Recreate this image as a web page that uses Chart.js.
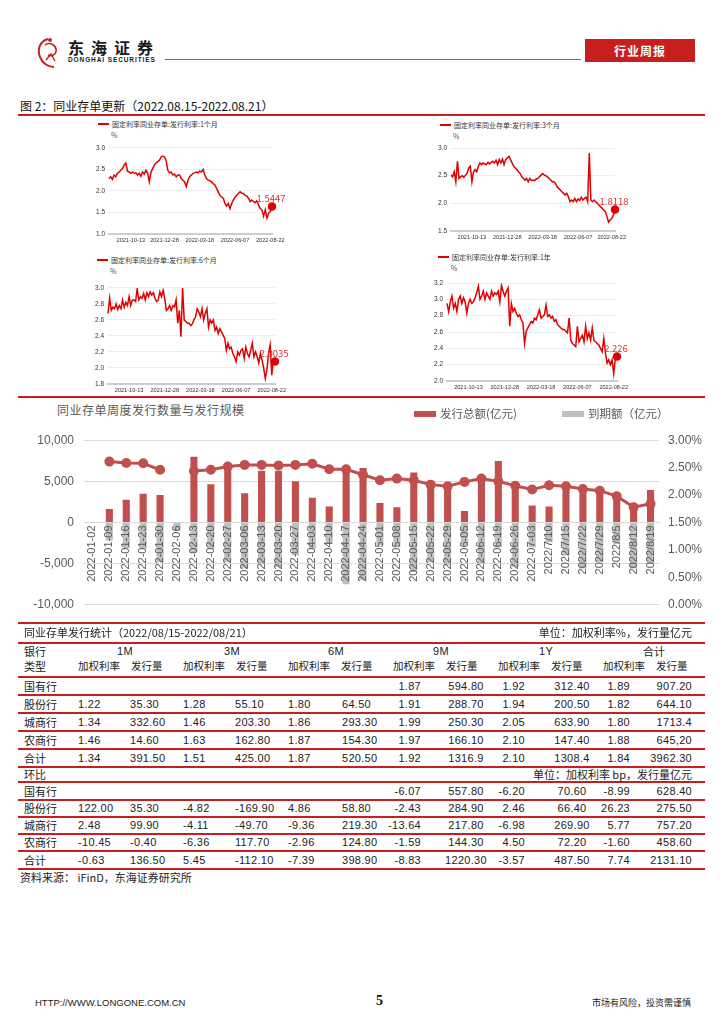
<!DOCTYPE html>
<html lang="zh-CN">
<head>
<meta charset="UTF-8">
<title>同业存单更新</title>
<script src="https://cdn.jsdelivr.net/npm/chart.js@4.4.0/dist/chart.umd.min.js"></script>
<style>
    body { margin: 0; background: #fff; font-family: "Noto Sans CJK SC", sans-serif; }
    #page { position: relative; width: 724px; height: 1024px; overflow: hidden; background: #fff; }
    .t { position: absolute; white-space: nowrap; line-height: 1; }
    .rl { position: absolute; left: 18px; width: 687px; background: #C81E1E; }
    canvas { position: absolute; }
    .num { font-family: "Liberation Sans", sans-serif; letter-spacing: 0.3px; }
</style>
</head>
<body>
<div id="page">
    <!-- header -->
    <svg style="position:absolute;left:34px;top:36px" width="30" height="34" viewBox="0 0 30 34">
        <path d="M14 3 C6 5 3 13 6 21 C8 27 14 31 20 31" fill="none" stroke="#C81E1E" stroke-width="2"/>
        <path d="M11 9 C15 6 21 8 22 13 C23 18 18 21 14 19" fill="none" stroke="#C81E1E" stroke-width="1.6"/>
        <path d="M12 24 L17 18 L21 25" fill="none" stroke="#C81E1E" stroke-width="1.4"/>
        <circle cx="16" cy="4" r="2" fill="#C81E1E"/>
    </svg>
    <div class="t" style="left:68px;top:39px;font-size:16px;font-weight:bold;letter-spacing:7px;color:#1a1a1a">东海证券</div>
    <div class="t" style="left:68px;top:57px;font-size:6.5px;font-weight:bold;letter-spacing:0.9px;color:#1a1a1a;font-family:'Liberation Sans',sans-serif">DONGHAI SECURITIES</div>
    <div style="position:absolute;left:165px;top:59px;width:416px;height:1px;background:#C0504D"></div>
    <div style="position:absolute;left:585px;top:39px;width:110px;height:23px;background:#C81E1E"></div>
    <div class="t" style="left:640px;top:51px;transform:translate(-50%,-50%);font-size:12px;font-weight:bold;color:#fff;letter-spacing:1px">行业周报</div>

    <div class="t" style="left:20px;top:100px;font-size:12px;color:#111">图 2：同业存单更新（2022.08.15-2022.08.21）</div>
    <div class="rl" style="top:114px;height:2px"></div>

    <!-- small charts -->
    <canvas id="c1m" width="200" height="110" style="left:88px;top:140px;width:200px;height:110px"></canvas>
    <canvas id="c3m" width="200" height="105" style="left:430px;top:140px;width:200px;height:105px"></canvas>
    <canvas id="c6m" width="205" height="117" style="left:87px;top:280px;width:205px;height:117px"></canvas>
    <canvas id="c1y" width="210" height="120" style="left:426px;top:275px;width:210px;height:120px"></canvas>
    <div class="rl" style="top:396px;height:2px"></div>

    <!-- main chart -->
    <div class="t" style="left:57px;top:404px;font-size:12px;color:#595959;letter-spacing:0.5px">同业存单周度发行数量与发行规模</div>
    <div style="position:absolute;left:414px;top:411px;width:22px;height:6px;background:#C0504D"></div>
    <div class="t" style="left:440px;top:408px;font-size:11.5px;color:#595959">发行总额(亿元)</div>
    <div style="position:absolute;left:562px;top:411px;width:22px;height:6px;background:#BFBFBF"></div>
    <div class="t" style="left:588px;top:408px;font-size:11.5px;color:#595959">到期额（亿元）</div>
    <canvas id="main" width="724" height="199" style="left:0;top:423px;width:724px;height:199px"></canvas>

    <!-- footer -->
    <div class="t" style="left:35px;top:998px;font-size:9.5px;color:#222;font-family:'Liberation Sans',sans-serif">HTTP://WWW.LONGONE.COM.CN</div>
    <div class="t" style="left:376px;top:994px;font-size:14px;font-weight:bold;color:#111;font-family:'Liberation Serif',serif">5</div>
    <div class="t" style="left:592px;top:998px;font-size:9px;color:#222">市场有风险，投资需谨慎</div>
</div>

<script>
    // 主图：同业存单周度发行
    var weeks = ['2022-01-02', '2022-01-09', '2022-01-16', '2022-01-23', '2022-01-30', '2022-02-06',
        '2022-02-13', '2022-02-20', '2022-02-27', '2022-03-06', '2022-03-13', '2022-03-20', '2022-03-27',
        '2022-04-03', '2022-04-10', '2022-04-17', '2022-04-24', '2022-05-01', '2022-05-08', '2022-05-15',
        '2022-05-22', '2022-05-29', '2022-06-05', '2022-06-12', '2022-06-19', '2022-06-26', '2022-07-03',
        '2022/7/10', '2022/7/15', '2022/7/22', '2022/7/29', '2022/8/5', '2022/8/12', '2022/8/19'];
    var issueAmt = [null, 1650, 2750, 3500, 3350, null, 7980, 4640, 7020, 3550, 6300, 6300, 5000,
        3020, 1940, 6610, 6610, 2380, 1850, 6090, 4920, 4480, 1410, 5360, 7460, 4560, 2060,
        1940, 4560, 4150, 4270, 3630, 2060, 3950];
    var maturityAmt = [null, -2200, -3100, -3200, -4800, -1000, -3600, -3200, -4800, -5600, -5100, -5400, -4000,
        -3200, -2600, -7500, -7000, -2800, -3000, -6000, -4800, -5200, -2800, -5000, -3000, -5400, -3000,
        -2400, -4000, -5600, -4800, -2600, -5600, -5000];
    var issueRate = [null, 2.61, 2.585, 2.58, 2.46, null, 2.44, 2.46, 2.52, 2.55, 2.55, 2.54, 2.55,
        2.57, 2.47, 2.47, 2.37, 2.27, 2.30, 2.27, 2.19, 2.16, 2.24, 2.30, 2.25, 2.17, 2.10,
        2.18, 2.16, 2.11, 2.08, 1.98, 1.78, 1.84];

    // 小图：固定利率同业存单发行利率（日度）
    var tickDates = ['2021-10-13', '2021-12-28', '2022-03-18', '2022-06-07', '2022-08-22'];
    var rate1M = [2.29, 2.33, 2.27, 2.37, 2.33, 2.41, 2.44, 2.48, 2.52, 2.60, 2.65, 2.46, 2.44, 2.41, 2.44, 2.41,
        2.42, 2.37, 2.41, 2.34, 2.44, 2.39, 2.48, 2.41, 2.21, 2.44, 2.52, 2.60, 2.65, 2.68, 2.71, 2.79, 2.81,
        2.79, 2.71, 2.48, 2.42, 2.44, 2.37, 2.39, 2.33, 2.37, 2.37, 2.29, 2.25, 2.21, 2.10, 2.25, 2.33, 2.37,
        2.41, 2.42, 2.44, 2.42, 2.46, 2.44, 2.50, 2.37, 2.29, 2.25, 2.24, 2.21, 2.17, 2.14, 2.06, 1.98, 1.90,
        1.86, 1.83, 1.71, 1.65, 1.71, 1.59, 1.71, 1.79, 1.85, 1.90, 1.94, 1.98, 1.95, 1.94, 1.90, 1.88, 1.83,
        1.75, 1.79, 1.75, 1.73, 1.77, 1.67, 1.59, 1.56, 1.41, 1.56, 1.37, 1.49, 1.52, 1.64];
    var rate3M = [2.51, 2.48, 2.57, 2.39, 2.76, 2.45, 2.48, 2.50, 2.47, 2.51, 2.54, 2.64, 2.67, 2.39, 2.57, 2.61,
        2.57, 2.67, 2.73, 2.70, 2.73, 2.71, 2.70, 2.74, 2.71, 2.74, 2.76, 2.73, 2.78, 2.70, 2.79, 2.73, 2.80,
        2.70, 2.79, 2.82, 2.85, 2.79, 2.73, 2.67, 2.64, 2.61, 2.57, 2.54, 2.48, 2.45, 2.42, 2.45, 2.39, 2.45,
        2.41, 2.42, 2.41, 2.44, 2.45, 2.48, 2.51, 2.54, 2.51, 2.50, 2.48, 2.45, 2.42, 2.39, 2.39, 2.36, 2.30,
        2.27, 2.24, 2.21, 2.18, 2.15, 2.18, 2.12, 2.03, 2.06, 2.03, 2.09, 2.03, 2.08, 2.05, 2.11, 2.06, 2.09,
        2.11, 2.03, 2.91, 2.06, 2.03, 2.06, 2.03, 2.00, 1.97, 1.94, 1.91, 1.88, 1.85, 1.76, 1.66, 1.70, 1.73,
        1.79, 1.89];
    var rate6M = [2.68, 2.87, 2.72, 2.76, 2.74, 2.80, 2.73, 2.78, 2.74, 2.85, 2.76, 2.82, 2.78, 2.89, 2.78, 2.85,
        2.85, 2.83, 2.99, 2.85, 2.89, 2.87, 2.93, 2.85, 2.94, 2.89, 2.95, 2.91, 2.94, 2.87, 2.83, 2.85, 2.95,
        2.89, 2.97, 2.87, 2.72, 2.74, 2.78, 2.72, 2.78, 2.76, 2.85, 2.56, 2.72, 2.39, 3.00, 2.60, 2.58, 2.56,
        2.56, 2.53, 2.55, 2.60, 2.64, 2.74, 2.70, 2.64, 2.74, 2.60, 2.68, 2.74, 2.51, 2.60, 2.56, 2.60, 2.47,
        2.51, 2.43, 2.49, 2.45, 2.41, 2.37, 2.22, 2.31, 2.24, 2.26, 2.18, 2.14, 2.08, 2.20, 2.16, 2.22, 2.24,
        2.12, 2.26, 2.18, 2.14, 2.22, 2.31, 2.14, 2.20, 2.14, 2.06, 2.18, 2.10, 2.00, 1.87, 1.97, 2.18, 2.29,
        1.91, 2.10, 2.08];
    var rate1Y = [2.95, 2.85, 2.97, 3.04, 2.89, 2.95, 2.85, 3.00, 3.04, 2.95, 3.02, 2.97, 2.83, 2.95, 3.00, 2.95,
        2.97, 3.02, 3.08, 3.16, 3.00, 3.04, 3.10, 3.00, 3.08, 3.04, 3.00, 3.10, 3.04, 3.08, 3.06, 3.10, 2.97,
        3.17, 3.10, 3.04, 3.10, 3.14, 2.67, 2.95, 2.85, 2.89, 2.83, 2.79, 2.81, 2.75, 2.71, 2.46, 2.61, 2.65,
        2.69, 2.73, 2.71, 2.77, 2.75, 2.81, 2.87, 2.77, 2.79, 2.81, 2.93, 2.79, 2.81, 2.77, 2.79, 2.73, 2.75,
        2.69, 2.67, 2.65, 2.63, 2.63, 2.61, 2.59, 2.77, 2.50, 2.46, 2.44, 2.42, 2.67, 2.48, 2.52, 2.56, 2.48,
        2.67, 2.52, 2.59, 2.50, 2.65, 2.50, 2.48, 2.46, 2.44, 2.40, 2.36, 2.52, 2.34, 2.22, 2.26, 2.20, 2.26,
        2.09, 2.28, 2.30];

    var page = document.getElementById('page');

    function txt(s, x, y, size, align, cls, color) {
        var d = document.createElement('div');
        d.className = 't' + (cls ? ' ' + cls : '');
        d.textContent = s;
        d.style.fontSize = size + 'px';
        d.style.left = x + 'px';
        d.style.top = y + 'px';
        d.style.color = color || '#222';
        var ax = align == 'right' ? '-100%' : (align == 'center' ? '-50%' : '0');
        d.style.transform = 'translate(' + ax + ',-50%)';
        page.appendChild(d);
    }

    function redLine(y, h) {
        var d = document.createElement('div');
        d.className = 'rl';
        d.style.top = y + 'px';
        d.style.height = (h || 1.5) + 'px';
        page.appendChild(d);
    }

    // 小图的图例和单位
    var smallTitles = [
        ['固定利率同业存单:发行利率:1个月', 98, 124],
        ['固定利率同业存单:发行利率:3个月', 440, 125],
        ['固定利率同业存单:发行利率:6个月', 97, 260],
        ['固定利率同业存单:发行利率:1年', 438, 257]
    ];
    smallTitles.forEach(function (s) {
        var l = document.createElement('div');
        l.style.cssText = 'position:absolute;left:' + s[1] + 'px;top:' + (s[2] - 1) + 'px;width:11px;height:2px;background:#E00000';
        page.appendChild(l);
        txt(s[0], s[1] + 14, s[2], 7, 'left', '', '#333');
        txt('%', s[1] + 13, s[2] + 11, 7, 'left', '', '#555');
    });

    var lastLabel = {
        id: 'lastLabel',
        afterDatasetsDraw: function (chart, args, opts) {
            var meta = chart.getDatasetMeta(0);
            var p = meta.data[meta.data.length - 1];
            var ctx = chart.ctx;
            ctx.save();
            ctx.fillStyle = '#E03030';
            ctx.font = '9.5px "Noto Sans CJK SC"';
            ctx.textAlign = 'center';
            ctx.textBaseline = 'bottom';
            ctx.fillText(opts.text, p.x - 1, p.y - 3);
            ctx.restore();
        }
    };

    function smallChart(id, values, yMin, yMax, yStep, note, box) {
        var n = values.length;
        var labels = values.map(function () { return ''; });
        var tickAt = {};
        tickDates.forEach(function (d, k) {
            tickAt[Math.round((n - 1) * (0.985 - (4 - k) * 0.214))] = d;
        });
        new Chart(document.getElementById(id), {
            type: 'line',
            data: {
                labels: labels,
                datasets: [{
                    data: values,
                    borderColor: '#E00000',
                    backgroundColor: '#E00000',
                    borderWidth: 1.5,
                    tension: 0,
                    pointRadius: function (c) { return c.dataIndex == n - 1 ? 3.5 : 0; }
                }]
            },
            plugins: [lastLabel],
            options: {
                responsive: false,
                animation: false,
                layout: { padding: { top: box.top, right: box.right, left: 0, bottom: 0 } },
                plugins: { legend: { display: false }, tooltip: { enabled: false }, lastLabel: { text: note } },
                scales: {
                    x: {
                        grid: { display: false, drawTicks: false },
                        border: { display: true, color: '#C9CDD6', width: 2 },
                        ticks: {
                            autoSkip: false, maxRotation: 0, minRotation: 0, padding: 3,
                            color: '#333', font: { size: 5.6 },
                            callback: function (v, i) { return tickAt[i] || ''; }
                        },
                        afterFit: function (s) { s.height = box.xh; }
                    },
                    y: {
                        min: yMin, max: yMax,
                        grid: { color: '#EDEDED', drawTicks: false },
                        border: { display: false },
                        ticks: {
                            stepSize: yStep, padding: 4, color: '#333', font: { size: 6.5 },
                            callback: function (v) { return v.toFixed(1); }
                        },
                        afterFit: function (s) { s.width = box.yw; }
                    }
                }
            }
        });
    }

    smallChart('c1m', rate1M, 1.0, 3.0, 0.5, '1.5447', { top: 7.7, right: 16, xh: 16, yw: 21 });
    smallChart('c3m', rate3M, 1.5, 3.0, 0.5, '1.8118', { top: 8, right: 15, xh: 14, yw: 21 });
    smallChart('c6m', rate6M, 1.8, 3.0, 0.2, '2.0035', { top: 7.7, right: 17, xh: 13, yw: 21 });
    smallChart('c1y', rate1Y, 2.0, 3.2, 0.2, '2.226', { top: 8, right: 19, xh: 14, yw: 21 });

    // 主图
    new Chart(document.getElementById('main'), {
        data: {
            labels: weeks,
            datasets: [{
                type: 'line',
                label: '加权发行利率',
                data: issueRate,
                yAxisID: 'y1',
                borderColor: '#C0504D',
                backgroundColor: '#C0504D',
                borderWidth: 3,
                pointRadius: 3.5,
                tension: 0,
                spanGaps: false,
                order: 0
            }, {
                type: 'bar',
                label: '发行总额(亿元)',
                data: issueAmt,
                yAxisID: 'y',
                stack: 's',
                backgroundColor: '#C0504D',
                barPercentage: 0.42,
                categoryPercentage: 1,
                order: 1
            }, {
                type: 'bar',
                label: '到期额（亿元）',
                data: maturityAmt,
                yAxisID: 'y',
                stack: 's',
                backgroundColor: '#BFBFBF',
                barPercentage: 0.42,
                categoryPercentage: 1,
                order: 2
            }]
        },
        options: {
            responsive: false,
            animation: false,
            layout: { padding: { top: 6, bottom: 10, left: 0, right: 0 } },
            plugins: { legend: { display: false }, tooltip: { enabled: false } },
            scales: {
                x: {
                    stacked: true,
                    position: { y: 0 },
                    grid: { display: false, drawTicks: false },
                    border: { display: true, color: '#D9D9D9' },
                    ticks: {
                        autoSkip: false, minRotation: 90, maxRotation: 90, padding: 3, z: 1,
                        color: '#595959', font: { size: 11 }
                    }
                },
                y: {
                    stacked: true,
                    min: -10000, max: 10000,
                    grid: { color: '#D9D9D9', drawTicks: false },
                    border: { display: false },
                    ticks: {
                        stepSize: 5000, padding: 10, color: '#595959', font: { size: 12 },
                        callback: function (v) { return v.toLocaleString('en-US'); }
                    },
                    afterFit: function (s) { s.width = 84; }
                },
                y1: {
                    position: 'right',
                    min: 0, max: 3,
                    grid: { display: false, drawTicks: false },
                    border: { display: false },
                    ticks: {
                        stepSize: 0.5, padding: 9, color: '#595959', font: { size: 12 },
                        callback: function (v) { return v.toFixed(2) + '%'; }
                    },
                    afterFit: function (s) { s.width = 65; }
                }
            }
        }
    });

    // 表格：同业存单发行统计
    var cols = [[24, 'left'], [78, 'left'], [130, 'left'], [183, 'left'], [235, 'left'], [288, 'left'], [342, 'left'],
        [421, 'right'], [466, 'center'], [525, 'right'], [572, 'center'], [630, 'right'], [692, 'right']];
    var rowsWeek = [
        ['国有行', '', '', '', '', '', '', '1.87', '594.80', '1.92', '312.40', '1.89', '907.20'],
        ['股份行', '1.22', '35.30', '1.28', '55.10', '1.80', '64.50', '1.91', '288.70', '1.94', '200.50', '1.82', '644.10'],
        ['城商行', '1.34', '332.60', '1.46', '203.30', '1.86', '293.30', '1.99', '250.30', '2.05', '633.90', '1.80', '1713.4'],
        ['农商行', '1.46', '14.60', '1.63', '162.80', '1.87', '154.30', '1.97', '166.10', '2.10', '147.40', '1.88', '645,20'],
        ['合计', '1.34', '391.50', '1.51', '425.00', '1.87', '520.50', '1.92', '1316.9', '2.10', '1308.4', '1.84', '3962.30']
    ];
    var rowsChg = [
        ['国有行', '', '', '', '', '', '', '-6.07', '557.80', '-6.20', '70.60', '-8.99', '628.40'],
        ['股份行', '122.00', '35.30', '-4.82', '-169.90', '4.86', '58.80', '-2.43', '284.90', '2.46', '66.40', '26.23', '275.50'],
        ['城商行', '2.48', '99.90', '-4.11', '-49.70', '-9.36', '219.30', '-13.64', '217.80', '-6.98', '269.90', '5.77', '757.20'],
        ['农商行', '-10.45', '-0.40', '-6.36', '117.70', '-2.96', '124.80', '-1.59', '144.30', '4.50', '72.20', '-1.60', '458.60'],
        ['合计', '-0.63', '136.50', '5.45', '-112.10', '-7.39', '398.90', '-8.83', '1220.30', '-3.57', '487.50', '7.74', '2131.10']
    ];

    [622, 642].forEach(function (y) { redLine(y, 2); });
    [676, 694, 712, 730, 748, 766, 781, 799, 816, 833, 850, 868].forEach(function (y) { redLine(y, 1.5); });

    txt('同业存单发行统计（2022/08/15-2022/08/21）', 24, 632, 11);
    txt('单位：加权利率%，发行量亿元', 692, 632, 11, 'right');
    txt('银行', 24, 651, 11);
    txt('类型', 24, 666, 11);
    [['1M', 125], ['3M', 232], ['6M', 336], ['9M', 441], ['1Y', 546], ['合计', 654]].forEach(function (h) {
        txt(h[0], h[1], 651, 11, 'center', h[0] == '合计' ? '' : 'num');
    });
    [78, 183, 288, 393, 498, 603].forEach(function (x) {
        txt('加权利率', x, 666, 10.5);
        txt('发行量', x + 53, 666, 10.5);
    });

    function fillRows(rows, ys) {
        rows.forEach(function (r, i) {
            r.forEach(function (v, j) {
                if (!v) return;
                txt(v, cols[j][0], ys[i], 11, cols[j][1], j ? 'num' : '');
            });
        });
    }
    fillRows(rowsWeek, [686, 704, 722, 740, 758]);
    txt('环比', 24, 774, 11);
    txt('单位：加权利率 bp，发行量亿元', 692, 774, 11, 'right');
    fillRows(rowsChg, [791, 808, 825, 842, 860]);
    txt('资料来源：  iFinD，东海证券研究所', 20, 877, 11);
</script>
</body>
</html>
